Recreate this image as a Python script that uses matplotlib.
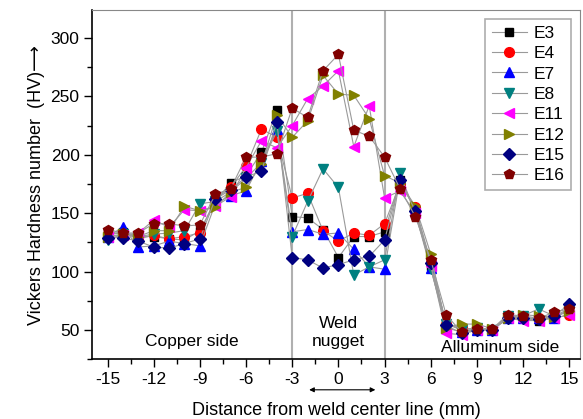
import matplotlib
matplotlib.use("Agg")
import matplotlib.pyplot as plt
import numpy as np
from matplotlib.ticker import MultipleLocator

plt.rcParams['font.family'] = ['Liberation Sans', 'DejaVu Sans']
plt.rcParams['axes.unicode_minus'] = False

# distance from weld centre line (mm)
dist = list(range(-15, 16))

# hardness readings (HV) for each sample
e3 = [132, 134, 130, 130, 128, 127, 135, 160, 176, 182, 202, 238, 147, 146, 136, 112,
      130, 130, 134, 178, 153, 105, 56, 50, 50, 50, 61, 60, 58, 62, 68]
e4 = [132, 133, 128, 131, 128, 130, 133, 162, 172, 190, 222, 215, 163, 167, 135, 126,
      133, 131, 141, 175, 155, 108, 55, 52, 50, 50, 62, 60, 60, 60, 63]
e7 = [130, 138, 121, 122, 126, 124, 122, 158, 165, 169, 195, 222, 134, 136, 132, 133,
      119, 104, 102, 180, 152, 103, 52, 48, 50, 50, 60, 60, 60, 60, 68]
e8 = [127, 132, 130, 132, 133, 135, 158, 160, 168, 180, 193, 220, 130, 160, 188, 172,
      97, 104, 110, 184, 150, 102, 55, 50, 52, 50, 62, 62, 68, 62, 66]
e11 = [130, 131, 133, 144, 138, 153, 152, 156, 164, 189, 212, 206, 225, 248, 259, 272,
       207, 242, 163, 169, 150, 105, 47, 46, 50, 50, 60, 58, 58, 60, 63]
e12 = [130, 132, 130, 135, 135, 156, 152, 155, 168, 172, 192, 234, 215, 229, 268, 252,
       251, 231, 182, 176, 156, 115, 52, 55, 55, 51, 60, 63, 62, 61, 66]
e15 = [129, 129, 126, 121, 120, 124, 128, 162, 170, 181, 186, 228, 112, 110, 103, 106,
       110, 113, 127, 178, 152, 107, 54, 47, 50, 50, 60, 60, 59, 62, 72]
e16 = [136, 133, 133, 141, 141, 139, 140, 166, 171, 198, 198, 201, 240, 232, 272, 286,
       221, 216, 198, 171, 147, 110, 63, 48, 51, 51, 63, 62, 60, 65, 68]

names = ['E3', 'E4', 'E7', 'E8', 'E11', 'E12', 'E15', 'E16']
series = [e3, e4, e7, e8, e11, e12, e15, e16]
colors = ['#000000', '#ff0000', '#0000ff', '#008080', '#ff00ff', '#808000', '#000080', '#800000']
markers = ['s', 'o', '^', 'v', '<', '>', 'D', 'p']
sizes = [6, 7, 7, 7, 7, 7, 6, 7.5]

fig = plt.figure(figsize=(5.83, 4.19), dpi=100)
ax = fig.add_axes([0.158, 0.143, 0.837, 0.833])

ax.axvline(-3, color='#b0b0b0', lw=1.5, zorder=1)
ax.axvline(3, color='#b0b0b0', lw=1.5, zorder=1)

for name, vals, c, m, s in zip(names, series, colors, markers, sizes):
    ax.plot(dist, vals, color='#9a9a9a', lw=0.8, marker=m, ms=s,
            markerfacecolor=c, markeredgecolor=c, label=name, zorder=3)

ax.set_xlim(-16, 15.7)
ax.set_ylim(25, 324)
ax.xaxis.set_major_locator(MultipleLocator(3))
ax.xaxis.set_minor_locator(MultipleLocator(1.5))
ax.yaxis.set_major_locator(MultipleLocator(50))
ax.yaxis.set_minor_locator(MultipleLocator(25))
ax.set_yticks([50, 100, 150, 200, 250, 300])
ax.tick_params(which='major', direction='out', length=6, width=1, labelsize=12.5, pad=3)
ax.tick_params(which='minor', direction='out', length=3.5, width=1)
ax.tick_params(top=False, right=False)
for side in ['top', 'right']:
    ax.spines[side].set_color('#888888')
for side in ['left', 'bottom']:
    ax.spines[side].set_linewidth(1.2)

ax.set_xlabel('Distance from weld center line (mm)', fontsize=13, labelpad=11)
ax.set_ylabel('Vickers Hardness number  (HV)\u27f6', fontsize=13, labelpad=4)

ax.text(-9.5, 40, 'Copper side', fontsize=12.5, ha='center', va='center')
ax.text(0, 48, 'Weld\nnugget', fontsize=12.5, ha='center', va='center', linespacing=1.25)
ax.text(10.5, 35, 'Alluminum side', fontsize=12.5, ha='center', va='center')

ax.annotate('', xy=(2.4, -0.088), xytext=(-1.9, -0.088),
            xycoords=('data', 'axes fraction'), textcoords=('data', 'axes fraction'),
            arrowprops=dict(arrowstyle='<|-|>', color='black', lw=0.8,
                            mutation_scale=7, shrinkA=0, shrinkB=0))

leg = ax.legend(loc='upper right', fontsize=12.5, fancybox=False, edgecolor='#999999',
                handlelength=2.0, labelspacing=0.3, borderpad=0.4,
                handletextpad=0.4, borderaxespad=0.5)
leg.get_frame().set_linewidth(1.2)

fig.savefig('out.png', dpi=100)
